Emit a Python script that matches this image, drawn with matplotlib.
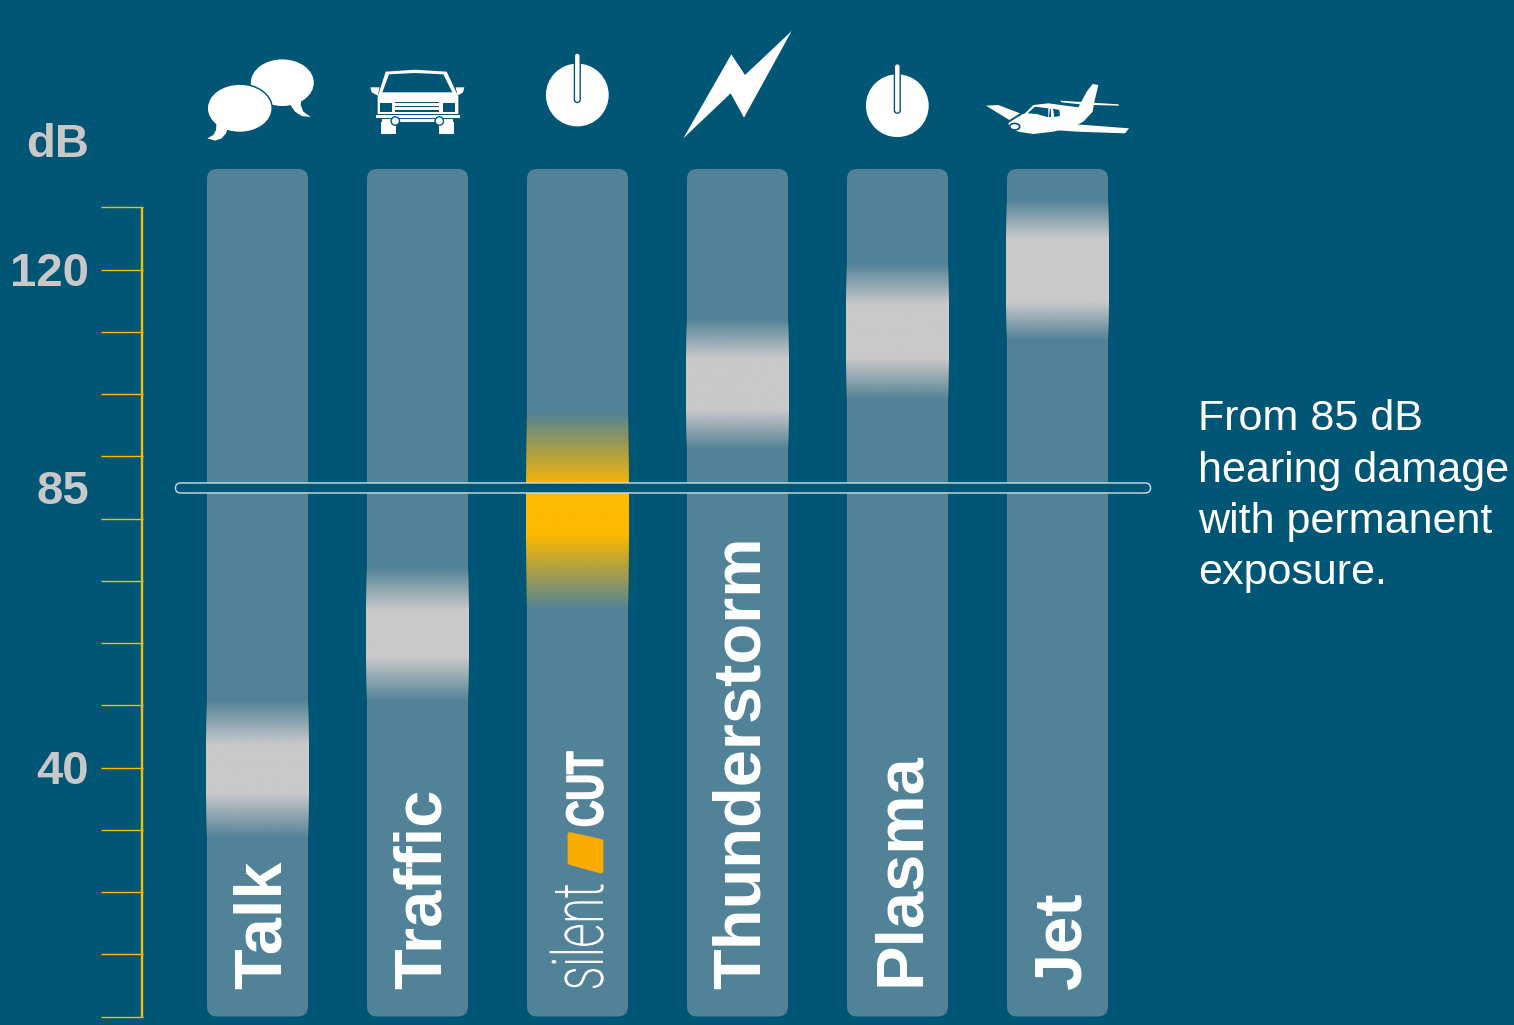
import numpy as np
import matplotlib
matplotlib.use("Agg")
import matplotlib.pyplot as plt
from matplotlib.patches import FancyBboxPatch, Ellipse, Polygon, Circle
from matplotlib.patheffects import AbstractPathEffect
from matplotlib.transforms import Affine2D

# ---------- data ----------
categories = ["Talk", "Traffic", "silentCUT", "Thunderstorm", "Plasma", "Jet"]
band_low = [28.7, 50.7, 65.3, 91.0, 99.0, 108.6]
band_high = [50.8, 72.1, 97.0, 112.2, 121.0, 131.0]
band_fade = [0.32, 0.32, 0.38, 0.30, 0.30, 0.27]
axis_ticks = list(range(0, 140, 10))
labelled_ticks = [120, 85, 40]
threshold = 85
note_lines = ["From 85 dB", "hearing damage", "with permanent", "exposure."]
label_dx = {"Talk": 23, "Traffic": 23, "Thunderstorm": 22.5, "Plasma": 21, "Jet": 23}
label_y = {"Talk": 989, "Traffic": 989, "Thunderstorm": 989, "Plasma": 986, "Jet": 989}

BG = "#005674"
BAR = "#528297"
BAND = "#c9c9c9"
YEL = "#fdba00"
ORANGE = "#f9ab00"
GREY = "#c8c8c8"

W, H = 1514, 1025
plt.rcParams["font.family"] = ["Liberation Sans", "DejaVu Sans"]

fig = plt.figure(figsize=(W / 100, H / 100), dpi=100, facecolor=BG)
ax = fig.add_axes([0, 0, 1, 1], facecolor=BG)
ax.axis("off")

# data scales: 160 px per category, 6.225 px per dB
PX_X, PX_Y = 160.0, 6.225
X0, Y0 = 257.5, 1016.5
xlim = (-X0 / PX_X, (W - X0) / PX_X)
ylim = ((Y0 - H) / PX_Y, Y0 / PX_Y)
bar_w = 101 / PX_X
bar_top = (Y0 - 169) / PX_Y
aspect = (1 / PX_Y) / (1 / PX_X)

# bars
for i, c in enumerate(categories):
    ax.add_patch(FancyBboxPatch((i - bar_w / 2, 0), bar_w, bar_top,
                                boxstyle=f"round,pad=0,rounding_size={10 / PX_X}",
                                mutation_aspect=aspect, fc=BAR, ec="none", zorder=1))

# bands: opaque plateau fading linearly at both ends
n = 400
for i, (lo, hi, fade, c) in enumerate(zip(band_low, band_high, band_fade, categories)):
    t = np.linspace(0, 1, n)
    a = np.clip(np.minimum(t, 1 - t) / fade, 0, 1)
    col = matplotlib.colors.to_rgb(YEL if c == "silentCUT" else BAND)
    img = np.zeros((n, 1, 4))
    img[..., :3] = col
    img[..., 3] = a[:, None]
    ax.imshow(img, extent=(i - 51.2 / PX_X, i + 51.2 / PX_X, lo, hi), origin="lower",
              aspect="auto", interpolation="bilinear", zorder=2)

# axis
ax.vlines((142 - X0) / PX_X, 0, max(axis_ticks), color=YEL, lw=1.7, zorder=3)
ax.hlines(axis_ticks, (101 - X0) / PX_X, (143 - X0) / PX_X, color=YEL, lw=1.0, zorder=3)
for v in labelled_ticks:
    ax.annotate(str(v), xy=((89 - X0) / PX_X, v), xytext=(0, -12.2), textcoords="offset points",
                ha="right", va="baseline", color=GREY, fontsize=34, fontweight="bold", zorder=5)

ax.set_xlim(*xlim)
ax.set_ylim(*ylim)

# overlay in pixels for decorations
ov = fig.add_axes([0, 0, 1, 1], facecolor="none")
ov.axis("off")
ov.set_xlim(0, W)
ov.set_ylim(H, 0)


def txt(x, y, s, **kw):
    return ov.text(x, y, s, ha=kw.pop("ha", "left"), va="baseline", rotation_mode="anchor", **kw)


class Squeeze(AbstractPathEffect):
    """Condense live text along display y about a pixel anchor, with optional emboldening."""

    def __init__(self, anchor_y, sy, bold=0.0):
        super().__init__()
        self.a, self.s, self.b = anchor_y, sy, bold

    def draw_path(self, renderer, gc, tpath, affine, rgbFace=None):
        extra = Affine2D().translate(0, -self.a).scale(1, self.s).translate(0, self.a)
        gc0 = renderer.new_gc()
        gc0.copy_properties(gc)
        gc0.set_linewidth(self.b)
        gc0.set_foreground("white")
        renderer.draw_path(gc0, tpath, affine + extra, rgbFace)
        gc0.restore()


txt(89, 157, "dB", ha="right", color=GREY, fontsize=34, fontweight="bold")

# threshold capsule
cap_y = Y0 - threshold * PX_Y
ov.add_patch(FancyBboxPatch((175.5, cap_y - 4.4), 975, 10,
                            boxstyle="round,pad=0,rounding_size=5",
                            fc=BG, ec="#cfe0e6", lw=1.0, zorder=4))

# rotated labels
for i, c in enumerate(categories):
    if c == "silentCUT":
        continue
    txt(X0 + i * PX_X + label_dx[c], label_y[c], c, rotation=90, color="white",
        fontsize=48.1, fontweight="bold", zorder=5)

# silentCUT logo as text
sx = X0 + 2 * PX_X + 25
t1 = txt(sx, 990, "silent", rotation=90, color="white", fontsize=50.4,
         family=["Roboto", "DejaVu Sans"], fontweight="light", zorder=5)
t1.set_path_effects([Squeeze(H - 990, 0.67, 0.7)])
t2 = txt(sx, 827, "CUT", rotation=90, color="white", fontsize=37.2, fontweight="bold", zorder=5)
t2.set_path_effects([Squeeze(H - 827, 0.71, 1.2)])
ov.add_patch(Polygon([(570, 834.5), (601, 841.5), (601, 871), (570, 862.5)], closed=True,
                     fc=ORANGE, ec=ORANGE, lw=3.5, joinstyle="round", zorder=5))

# note
for y, line in zip([430, 482, 533, 584], note_lines):
    txt(1198.5, y, line, color="white", fontsize=31.05)


def poly(pts, ox, oy, fc="white", z=6):
    ov.add_patch(Polygon([(ox + x / 3, oy + y / 3) for x, y in pts], closed=True, fc=fc, ec="none", zorder=z))


# speech bubbles
ob = (200, 55)
ov.add_patch(Ellipse((282.3, 82.7), 63, 46.6, fc="white", ec="none", zorder=6))
poly([(305, 130), (302, 150), (310, 170), (332, 186), (305, 183), (285, 170), (268, 145)], *ob)
ov.add_patch(Ellipse((239.7, 108.3), 66.5, 49.8, fc=BG, ec="none", zorder=7))
ov.add_patch(Ellipse((239.7, 108.3), 63.5, 46.8, fc="white", ec="none", zorder=8))
poly([(50, 200), (48, 225), (40, 240), (22, 250), (45, 257), (65, 250), (78, 235), (84, 215)], *ob, z=8)

# car
oc = (365, 65)
poly([(62, 20), (150, 14), (245, 20), (280, 95), (280, 147), (38, 147), (38, 95)], *oc)
poly([(72, 28), (150, 24), (235, 28), (262, 82), (52, 82)], *oc, fc=BG, z=7)
poly([(16, 67), (44, 67), (38, 92), (20, 82)], *oc)
poly([(298, 67), (272, 67), (278, 92), (294, 82)], *oc)
for x0, y0, x1, y1 in [(45, 113, 80, 140), (235, 113, 270, 140), (91, 112, 222, 115),
                       (91, 124, 222, 127), (91, 136, 222, 140)]:
    poly([(x0, y0), (x1, y0), (x1, y1), (x0, y1)], *oc, fc=BG, z=7)
ov.add_patch(FancyBboxPatch((375, 113.8), 84.6, 4.6, boxstyle="square,pad=0", fc="white", ec=BG, lw=0.7, zorder=8))
poly([(50, 160), (265, 160), (265, 172), (50, 172)], *oc)
poly([(48, 170), (92, 170), (92, 208), (48, 208)], *oc)
poly([(223, 170), (267, 170), (267, 208), (223, 208)], *oc)
for cx in (395.3, 439.3):
    ov.add_patch(Circle((cx, 121), 4.2, fc="white", ec=BG, lw=1.0, zorder=9))


# power icons
def power(cx, cy):
    ov.add_patch(Circle((cx, cy), 31.4, fc="white", ec="none", zorder=6))
    ov.add_patch(FancyBboxPatch((cx - 2.9, cy - 42), 5.8, 49.5, boxstyle="round,pad=0,rounding_size=2.9",
                                fc="white", ec=BG, lw=1.0, zorder=7))


power(577.3, 95)
power(897.3, 105.7)

# bolt
o2 = (660, 20)
poly([(395, 33), (255, 165), (214, 103), (70, 355), (212, 220), (252, 293)], *o2)

# plane
op = (980, 80)
poly([(18, 77), (55, 75), (120, 100), (88, 120)], *op)
poly([(85, 130), (110, 110), (135, 100), (160, 75), (205, 70), (295, 82), (320, 35), (338, 12), (355, 15),
      (342, 70), (338, 95), (310, 125), (280, 140), (220, 155), (160, 162), (115, 155), (90, 145)], *op, z=7)
poly([(240, 62), (305, 66), (416, 73), (416, 77), (340, 75), (300, 73), (245, 67)], *op)
poly([(220, 150), (290, 133), (447, 145), (435, 160), (290, 155)], *op, z=7)
poly([(143, 100), (165, 80), (205, 85), (205, 112), (170, 102)], *op, fc=BG, z=8)
poly([(209, 86), (214, 86), (214, 112), (208, 112)], *op, fc=BG, z=8)
poly([(219, 86), (238, 90), (240, 108), (223, 111)], *op, fc=BG, z=8)
ov.add_patch(Ellipse((980 + 104 / 3, 80 + 140 / 3), 10, 6.5, fc="white", ec=BG, lw=1.2, zorder=8))
ov.plot([980 + 88 / 3, 980 + 120 / 3], [80 + 124 / 3, 80 + 106 / 3], color=BG, lw=0.8, zorder=8)

fig.savefig("out.png", dpi=100, facecolor=BG)
